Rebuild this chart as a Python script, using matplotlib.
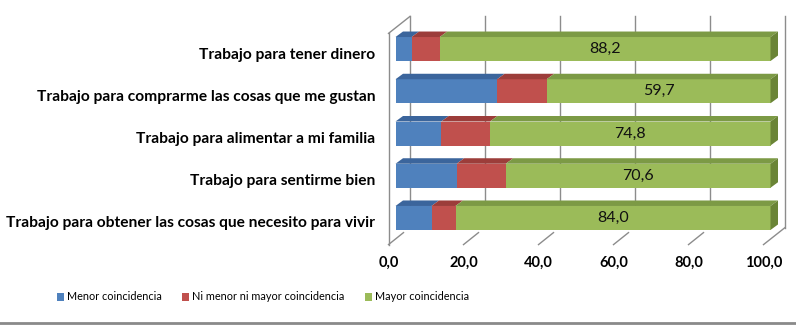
import matplotlib
matplotlib.use("Agg")
import matplotlib.pyplot as plt
from matplotlib.patches import Polygon, Patch
from matplotlib.lines import Line2D

categories = [
	"Trabajo para tener dinero",
	"Trabajo para comprarme las cosas que me gustan",
	"Trabajo para alimentar a mi familia",
	"Trabajo para sentirme bien",
	"Trabajo para obtener las cosas que necesito para vivir",
]
menor = [4.3, 27.1, 12.2, 16.3, 9.6]
ni_ni = [7.5, 13.2, 13.0, 13.1, 6.4]
mayor = [88.2, 59.7, 74.8, 70.6, 84.0]
series_names = ["Menor coincidencia", "Ni menor ni mayor coincidencia", "Mayor coincidencia"]
x_ticks = [0, 20, 40, 60, 80, 100]

front_cols = ["#4F81BD", "#C0504D", "#9BBB59"]
top_cols = ["#3B659C", "#9C3D3A", "#7C9A45"]
side_col = "#6A8436"
grid_col = "#8C8C8C"

W, H = 796, 325
fig = plt.figure(figsize=(W / 100, H / 100), dpi=100)

# axes frame = front face of the bars
ax_l, ax_r, ax_t, ax_b = 395.5, 770.5, 27.9, 239.1
ax = fig.add_axes([ax_l / W, 1 - ax_b / H, (ax_r - ax_l) / W, (ax_b - ax_t) / H])
ax.set_xlim(0, 100)
ax.set_ylim(len(categories) - 0.5, -0.5)
ax.axis("off")

ux = 100 / (ax_r - ax_l)
uy = len(categories) / (ax_b - ax_t)
ytop, ybot = -0.5, len(categories) - 0.5

# depth offsets in px (right, up)
front_dx, front_dy = -7, -5.5
bar_dx, bar_dy = 7.5, 5.5
back_dx, back_dy = 14.5, 11.5

line_kw = dict(color=grid_col, lw=1, clip_on=False, zorder=0)

# back wall gridlines
for t in x_ticks:
	bx = t + back_dx * ux
	ax.plot([bx, bx], [ytop - back_dy * uy, ybot - back_dy * uy], **line_kw)

# left wall edges
fx0 = front_dx * ux
ax.plot([fx0, fx0], [ytop - front_dy * uy, ybot - front_dy * uy], **line_kw)
ax.plot([fx0, back_dx * ux], [ytop - front_dy * uy, ytop - back_dy * uy], **line_kw)

# floor lines
for t in x_ticks:
	fx = t + front_dx * ux
	fy = ybot - front_dy * uy
	if t == x_ticks[-1]:
		ax.plot([fx, t + back_dx * ux], [fy, ybot - back_dy * uy], **line_kw)
	else:
		ax.plot([fx, fx + 15 * ux], [fy, fy - 12 * uy], **line_kw)
	ax.text(fx, fy + 18 * uy, f"{t:.1f}".replace(".", ","), ha="center", va="center",
			fontsize=10.5, fontweight="bold", family=["Lato", "DejaVu Sans"])

# category labels
for i, c in enumerate(categories):
	ax.text(fx0 - 13 * ux, i - front_dy * uy, c, ha="right", va="center",
			fontsize=11.2, fontweight="bold", family=["Lato", "DejaVu Sans"])

# bars
h = 24 * uy
for i in range(len(categories)):
	vals = [menor[i], ni_ni[i], mayor[i]]
	left = 0
	for k, v in enumerate(vals):
		ax.barh(i, v, left=left, height=h, color=front_cols[k], zorder=2, linewidth=0)
		y0 = i - h / 2
		top = [(left, y0), (left + v, y0), (left + v + bar_dx * ux, y0 - bar_dy * uy),
			   (left + bar_dx * ux, y0 - bar_dy * uy)]
		ax.add_patch(Polygon(top, closed=True, facecolor=top_cols[k], edgecolor="none",
							 zorder=2, clip_on=False))
		left += v
	y0, y1 = i - h / 2, i + h / 2
	side = [(left, y0), (left, y1), (left + bar_dx * ux, y1 - bar_dy * uy),
			(left + bar_dx * ux, y0 - bar_dy * uy)]
	ax.add_patch(Polygon(side, closed=True, facecolor=side_col, edgecolor="none",
						 zorder=2, clip_on=False))
	gl = menor[i] + ni_ni[i]
	ax.text(gl + mayor[i] / 2, i, f"{mayor[i]:.1f}".replace(".", ","), ha="center",
			va="center", fontsize=11.5, color="#111111", zorder=3,
			family=["Lato", "DejaVu Sans"])

handles = [Patch(facecolor=c, edgecolor="none") for c in front_cols]
fig.legend(handles, series_names, loc="center", bbox_to_anchor=(263 / W, 1 - 297 / H),
		   ncol=3, frameon=False, handlelength=0.65, handleheight=0.8, handletextpad=0.25,
		   columnspacing=1.9, prop={"family": ["Lato", "DejaVu Sans"], "size": 7.8})

fig.add_artist(Line2D([0, 1], [1 - 322.5 / H, 1 - 322.5 / H], transform=fig.transFigure,
					  color="#8A8A8A", lw=2))

fig.savefig("out.png", dpi=100)
